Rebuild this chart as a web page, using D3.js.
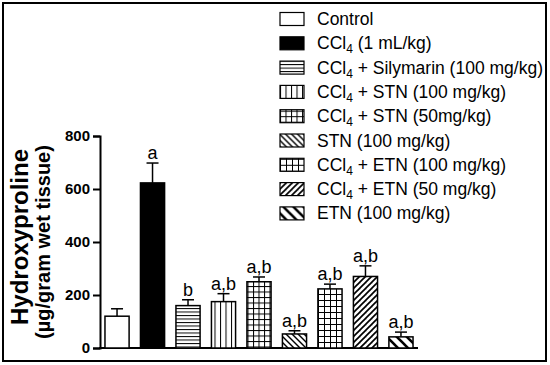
<!DOCTYPE html>
<html>
<head>
<meta charset="utf-8">
<script src="https://cdn.jsdelivr.net/npm/d3@7"></script>
<style>
  body { margin: 0; background: #fff; }
  text { font-family: Arial, "Liberation Sans", sans-serif; }
</style>
</head>
<body>
<svg id="chart" width="550" height="365"></svg>
<script>
// data
const groups = ['Control', 'CCl4', 'Silymarin', 'STN100', 'STN50', 'STN', 'ETN100c', 'ETN50c', 'ETN']
const means = [120, 623, 160, 175, 250, 53, 223, 270, 42]
const sems = [28, 75, 22, 30, 18, 12, 18, 40, 18]
const marks = ['', 'a', 'b', 'a,b', 'a,b', 'a,b', 'a,b', 'a,b', 'a,b']
const legendLabels = [
  ['Control', ''],
  ['CCl', '4', ' (1 mL/kg)'],
  ['CCl', '4', ' + Silymarin (100 mg/kg)'],
  ['CCl', '4', ' + STN (100 mg/kg)'],
  ['CCl', '4', ' + STN (50mg/kg)'],
  ['STN (100 mg/kg)', ''],
  ['CCl', '4', ' + ETN (100 mg/kg)'],
  ['CCl', '4', ' + ETN (50 mg/kg)'],
  ['ETN (100 mg/kg)', '']
]
const yTicks = [0, 200, 400, 600, 800]

const svg = d3.select('#chart')

// outer frame
svg.append('rect')
  .attr('x', 3).attr('y', 3).attr('width', 543).attr('height', 358)
  .attr('fill', 'none').attr('stroke', '#000').attr('stroke-width', 2)

// fill patterns
const defs = svg.append('defs')
function pattern (id, size, draw) {
  let p = defs.append('pattern')
    .attr('id', id).attr('patternUnits', 'userSpaceOnUse')
    .attr('width', size).attr('height', size)
  p.append('rect').attr('width', size).attr('height', size).attr('fill', '#fff')
  draw(p, size)
}
function line (p, x1, y1, x2, y2, w) {
  p.append('line').attr('x1', x1).attr('y1', y1).attr('x2', x2).attr('y2', y2)
    .attr('stroke', '#000').attr('stroke-width', w || 1)
}
function diag (p, s, w, back) {
  if (back) {
    line(p, 0, 0, s, s, w); line(p, -s / 2, s / 2, s / 2, s * 1.5, w); line(p, s / 2, -s / 2, s * 1.5, s / 2, w)
  } else {
    line(p, 0, s, s, 0, w); line(p, -s / 2, s / 2, s / 2, -s / 2, w); line(p, s / 2, s * 1.5, s * 1.5, s / 2, w)
  }
}
pattern('hlines', 3.5, function (p, s) { line(p, 0, 0.5, s, 0.5) })
pattern('vlines', 5.5, function (p, s) { line(p, 0.5, 0, 0.5, s) })
pattern('grid', 5.5, function (p, s) { line(p, 0, 0.5, s, 0.5); line(p, 0.5, 0, 0.5, s) })
pattern('grid2', 6, function (p, s) { line(p, 0, 0.5, s, 0.5); line(p, 0.5, 0, 0.5, s) })
pattern('back', 6, function (p, s) { diag(p, s, 1.4, true) })
pattern('fwd', 6, function (p, s) { diag(p, s, 1.7, false) })
pattern('backWide', 10, function (p, s) { line(p, 0, 0, s, s, 2.6); line(p, -3, s - 3, 3, s + 3, 2.6); line(p, s - 3, -3, s + 3, 3, 2.6) })

const fills = ['#fff', '#000', 'url(#hlines)', 'url(#vlines)', 'url(#grid)', 'url(#back)', 'url(#grid2)', 'url(#fwd)', 'url(#backWide)']

const x = d3.scaleBand().domain(groups).range([100, 418])
  .paddingInner(0.32).paddingOuter(0.14)
const y = d3.scaleLinear().domain([0, 800]).range([348, 136])

// axes
const yAxis = svg.append('g').attr('transform', 'translate(100,0)')
  .call(d3.axisLeft(y).tickValues(yTicks).tickSize(7).tickPadding(3).tickFormat(d3.format('d')))
yAxis.select('.domain').attr('stroke-width', 2)
yAxis.selectAll('.tick line').attr('stroke-width', 2)
yAxis.selectAll('text').attr('font-size', 15).attr('font-weight', 'bold')
  .attr('font-family', 'Arial, "Liberation Sans", sans-serif').attr('fill', '#000')

svg.append('line').attr('x1', 99).attr('x2', 418).attr('y1', y(0)).attr('y2', y(0))
  .attr('stroke', '#000').attr('stroke-width', 2)

// bars
const bar = svg.selectAll('.bar').data(groups).enter().append('g')
bar.append('line')
  .attr('x1', function (d) { return x(d) + x.bandwidth() / 2 })
  .attr('x2', function (d) { return x(d) + x.bandwidth() / 2 })
  .attr('y1', function (d, i) { return y(means[i]) })
  .attr('y2', function (d, i) { return y(means[i] + sems[i]) })
  .attr('stroke', '#000').attr('stroke-width', 1.5)
bar.append('line')
  .attr('x1', function (d) { return x(d) + x.bandwidth() / 2 - 6 })
  .attr('x2', function (d) { return x(d) + x.bandwidth() / 2 + 6 })
  .attr('y1', function (d, i) { return y(means[i] + sems[i]) })
  .attr('y2', function (d, i) { return y(means[i] + sems[i]) })
  .attr('stroke', '#000').attr('stroke-width', 1.5)
bar.append('rect')
  .attr('x', function (d) { return x(d) })
  .attr('width', x.bandwidth())
  .attr('y', function (d, i) { return y(means[i]) })
  .attr('height', function (d, i) { return y(0) - y(means[i]) })
  .attr('fill', function (d, i) { return fills[i] })
  .attr('stroke', '#000').attr('stroke-width', 1.5)
bar.append('text')
  .attr('x', function (d) { return x(d) + x.bandwidth() / 2 })
  .attr('y', function (d, i) { return y(means[i] + sems[i]) - 4 })
  .attr('text-anchor', 'middle').attr('font-size', 18)
  .text(function (d, i) { return marks[i] })

// y title
svg.append('text')
  .attr('transform', 'translate(28,237) rotate(-90)')
  .attr('text-anchor', 'middle').attr('font-size', 24).attr('font-weight', 'bold')
  .text('Hydroxyproline')
svg.append('text')
  .attr('transform', 'translate(50,242) rotate(-90)')
  .attr('text-anchor', 'middle').attr('font-size', 20).attr('font-weight', 'bold')
  .text('(\u00b5g/gram wet tissue)')

// legend
const leg = svg.selectAll('.leg').data(legendLabels).enter().append('g')
  .attr('transform', function (d, i) { return 'translate(280,' + (19 + i * 24.3) + ')' })
leg.append('rect')
  .attr('x', 0).attr('y', -6.5).attr('width', 24).attr('height', 13)
  .attr('fill', function (d, i) { return fills[i] })
  .attr('stroke', '#000').attr('stroke-width', 1.2)
const lt = leg.append('text').attr('x', 37).attr('y', 6).attr('font-size', 17.5)
lt.append('tspan').text(function (d) { return d[0] })
lt.filter(function (d) { return d[1] !== '' }).append('tspan')
  .attr('font-size', 12).attr('dy', 4).text(function (d) { return d[1] })
lt.filter(function (d) { return d.length > 2 }).append('tspan')
  .attr('dy', -4).text(function (d) { return d[2] })
</script>
</body>
</html>
